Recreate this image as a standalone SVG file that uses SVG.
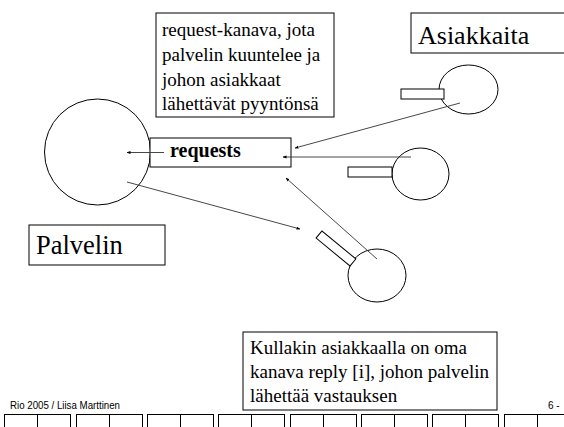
<svg xmlns="http://www.w3.org/2000/svg" width="564" height="427" viewBox="0 0 564 427">
<defs>
<style>
.s{fill:none;stroke:#000;stroke-width:1}
.w{fill:#fff;stroke:#000;stroke-width:1}
.c{stroke:#333;stroke-width:0.9;fill:none;marker-end:url(#ah)}
.t{fill:#000}
.f{fill:#000;font-size:10px}
</style>
<marker id="ah" markerWidth="4" markerHeight="4" refX="3.5" refY="2" orient="auto" markerUnits="userSpaceOnUse">
<path d="M0,0.5 L4,2 L0,3.5 z" fill="#000"/>
</marker>
</defs>
<rect width="564" height="427" fill="#fff"/>

<g id="note-requests" font-family="'Liberation Serif', serif">
<rect class="w" x="156" y="13" width="178" height="104"/>
<text class="t" font-size="19" x="162" y="36">request-kanava, jota</text>
<text class="t" font-size="19" x="162" y="61">palvelin kuuntelee ja</text>
<text class="t" font-size="19" x="162" y="86">johon asiakkaat</text>
<text class="t" font-size="19" x="162" y="110">lähettävät pyyntönsä</text>
</g>

<g id="label-asiakkaita" font-family="'Liberation Serif', serif">
<rect class="w" x="411" y="13" width="160" height="40"/>
<text class="t" font-size="26" x="418" y="44">Asiakkaita</text>
</g>

<g id="server">
<circle class="s" cx="97.5" cy="152" r="53"/>
</g>

<g id="requests" font-family="'Liberation Serif', serif">
<rect class="w" x="150" y="138" width="141" height="29"/>
<text class="t" font-size="20" font-weight="bold" x="170" y="157">requests</text>
</g>

<g id="label-palvelin" font-family="'Liberation Serif', serif">
<rect class="w" x="29" y="225" width="136" height="40"/>
<text class="t" font-size="26.5" x="36" y="254">Palvelin</text>
</g>

<g id="client1">
<ellipse class="s" cx="468.5" cy="89.5" rx="29.5" ry="24.5"/>
<rect class="w" x="401" y="89" width="43" height="10"/>
</g>

<g id="client2">
<ellipse class="s" cx="420.5" cy="174" rx="28.5" ry="26"/>
<rect class="w" x="348" y="167" width="44" height="10"/>
</g>

<g id="client3">
<ellipse class="s" cx="377" cy="275.5" rx="29" ry="26.5"/>
<rect class="w" x="0" y="-4.6" width="44" height="9.2" transform="translate(319,234.5) rotate(39.5)"/>
</g>

<g id="connectors">
<line class="c" x1="164" y1="152.5" x2="127" y2="152.5"/>
<line class="c" x1="460" y1="103" x2="295" y2="148"/>
<line class="c" x1="411" y1="157" x2="283" y2="157"/>
<line class="c" x1="377" y1="259" x2="286" y2="178"/>
<line class="c" x1="127" y1="182" x2="300" y2="229"/>
</g>

<g id="note-reply" font-family="'Liberation Serif', serif">
<rect class="w" x="243" y="332" width="254" height="78"/>
<text class="t" font-size="19" x="250" y="354">Kullakin asiakkaalla on oma</text>
<text class="t" font-size="19" x="250" y="378">kanava reply [i], johon palvelin</text>
<text class="t" font-size="19" x="250" y="402">lähettää vastauksen</text>
</g>

<g id="footer" font-family="'Liberation Sans', sans-serif">
<text class="f" x="10" y="409" textLength="110" lengthAdjust="spacingAndGlyphs">Rio 2005 / Liisa Marttinen</text>
<text class="f" x="548" y="409">6 -</text>
<g fill="none" stroke="#000" stroke-width="1">
<rect x="4.5" y="414.5" width="66" height="14"/><line x1="37.5" y1="414.5" x2="37.5" y2="427"/>
<rect x="76.5" y="414.5" width="66" height="14"/><line x1="109.5" y1="414.5" x2="109.5" y2="427"/>
<rect x="147.5" y="414.5" width="66" height="14"/><line x1="180.5" y1="414.5" x2="180.5" y2="427"/>
<rect x="218.5" y="414.5" width="66" height="14"/><line x1="251.5" y1="414.5" x2="251.5" y2="427"/>
<rect x="290.5" y="414.5" width="66" height="14"/><line x1="323.5" y1="414.5" x2="323.5" y2="427"/>
<rect x="361.5" y="414.5" width="66" height="14"/><line x1="394.5" y1="414.5" x2="394.5" y2="427"/>
<rect x="432.5" y="414.5" width="66" height="14"/><line x1="465.5" y1="414.5" x2="465.5" y2="427"/>
<rect x="504.5" y="414.5" width="66" height="14"/><line x1="537.5" y1="414.5" x2="537.5" y2="427"/>
</g>
</g>
</svg>
